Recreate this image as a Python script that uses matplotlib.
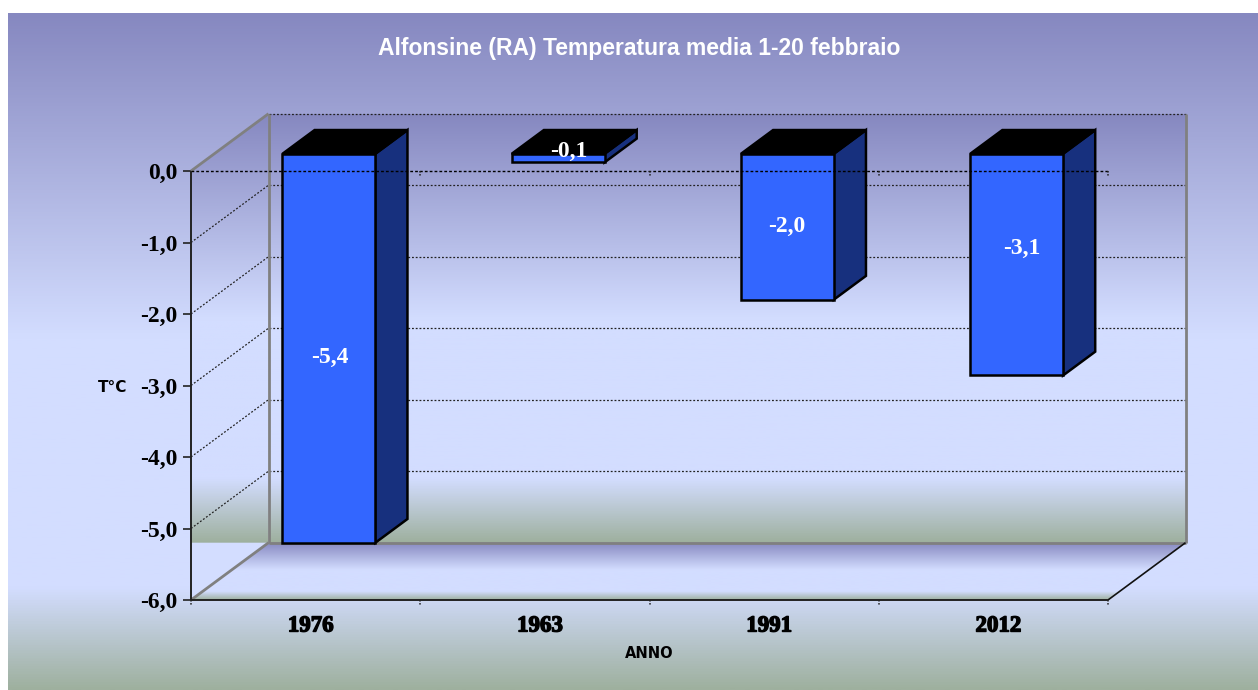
import numpy as np
import matplotlib
matplotlib.use("Agg")
import matplotlib.pyplot as plt
from matplotlib.colors import LinearSegmentedColormap
from matplotlib.patches import Polygon
import matplotlib.patheffects as pe

# ---- data ----
years = ["1976", "1963", "1991", "2012"]
values = [-5.44, -0.12, -2.04, -3.10]
y_ticks = [0, -1, -2, -3, -4, -5, -6]
title = "Alfonsine (RA) Temperatura media 1-20 febbraio"
y_title = "T°C"
x_title = "ANNO"

# ---- style ----
W, H = 1258, 690
L, R, T, B = 191.0, 1108.0, 171.0, 600.0     # front plane, pixels
DX_PX, DY_PX = 77.5, 57.3                    # full chart depth, pixels
BAR_W = 0.405
BAR_D0, BAR_D1 = 0.30, 0.715                 # bar depth span (fraction of chart depth)
FACE, SIDE, TOP = "#3366FF", "#17307E", "#000000"
SERIF = "Liberation Serif"
SANS = "Liberation Sans"
LABEL_SHIFT_PX = [(1, -9.5), (11, 6.5), (-1, 0), (5, 16.5)]

grad = LinearSegmentedColormap.from_list("bg", [
    (0.00, "#8688C0"), (0.48, "#D3DDFF"), (0.85, "#D3DDFF"), (1.00, "#9EB09E")])
g = np.linspace(0, 1, 512).reshape(-1, 1)

fig = plt.figure(figsize=(W / 100, H / 100), dpi=100, facecolor="white")

# page background
bg = fig.add_axes([8 / W, 0, 1 - 8 / W, 1 - 13 / H])
bg.imshow(g, cmap=grad, aspect="auto", extent=(0, 1, 0, 1), vmin=0, vmax=1)
bg.axis("off")

ax = fig.add_axes([L / W, 1 - B / H, (R - L) / W, (B - T) / H])
ax.set_xlim(0, len(years))
ax.set_ylim(min(y_ticks), max(y_ticks))
ax.patch.set_alpha(0)
for s in ax.spines.values():
    s.set_visible(False)

ux = (R - L) / len(years)
uy = (B - T) / (max(y_ticks) - min(y_ticks))
DX, DY = DX_PX / ux, DY_PX / uy


def pt(x, y, d=0.0):
    return (x + d * DX, y + d * DY)


ymin, ymax = min(y_ticks), max(y_ticks)
xn = len(years)
floor_y = ymin + DY
top_back = ymax + DY


def grad_poly(pts, y0, y1, x0, x1, z):
    im = ax.imshow(g, cmap=grad, aspect="auto", extent=(x0, x1, y0, y1),
                   vmin=0, vmax=1, zorder=z)
    poly = Polygon(pts, closed=True, transform=ax.transData, fc="none", ec="none",
                   clip_on=False)
    ax.add_patch(poly)
    im.set_clip_box(fig.bbox)
    im.set_clip_path(poly)
    return im


# flat corner under the left wall
ax.add_patch(Polygon([pt(0, ymin), pt(0, ymin, 1), (0, floor_y)], closed=True,
                     fc="#D3DDFF", ec="none", clip_on=False, zorder=1))
# back wall
grad_poly([pt(0, ymax, 1), pt(xn, ymax, 1), pt(xn, ymin, 1), pt(0, ymin, 1)],
          floor_y, top_back, DX, xn + DX, 1)
# left wall (ends where the floor starts)
grad_poly([pt(0, ymax), pt(0, ymax, 1), pt(0, ymin, 1), (0, floor_y)],
          floor_y, top_back, 0, DX, 1)
# floor
grad_poly([pt(0, ymin), pt(0, ymin, 1), pt(xn, ymin, 1), pt(xn, ymin)],
          ymin, floor_y, 0, xn + DX, 1)

ax.set_xlim(0, xn)
ax.set_ylim(ymin, ymax)

line_kw = dict(clip_on=False, solid_capstyle="butt")
grid_kw = dict(color="#222222", lw=0.9, dashes=(1.5, 1.5), clip_on=False, zorder=2)

# gridlines: left wall diagonals and back wall horizontals
for v in y_ticks[1:-1]:
    ax.plot(*zip(pt(0, v), pt(0, v, 1)), **grid_kw)
    ax.plot(*zip(pt(0, v, 1), pt(xn, v, 1)), **grid_kw)
ax.plot(*zip(pt(0, ymax, 1), pt(xn, ymax, 1)), **grid_kw)

# grey frame of the walls
grey = dict(color="#808080", lw=2.0, zorder=3, **line_kw)
ax.plot(*zip(pt(0, ymax, 1), pt(0, ymin, 1)), **grey)
ax.plot(*zip(pt(xn, ymax, 1), pt(xn, ymin, 1)), **grey)
ax.plot(*zip(pt(0, ymin, 1), pt(xn, ymin, 1)), **grey)
ax.plot(*zip(pt(0, ymax), pt(0, ymax, 1)), **grey)
ax.plot(*zip(pt(0, ymin), pt(0, ymin, 1)), **grey)
ax.plot(*zip(pt(xn, ymin), pt(xn, ymin, 1)), color="#111111", lw=1.2, zorder=3, **line_kw)

# zero line runs in front of the bars
ax.plot([0, xn], [0, 0], color="#000000", lw=1.0, dashes=(2, 1.5), zorder=8, clip_on=False)

# front axes
ax.plot([0, 0], [ymin, ymax], color="#222222", lw=1.4, zorder=9, **line_kw)
ax.plot([0, xn], [ymin, ymin], color="#222222", lw=1.4, zorder=9, **line_kw)

# bars
for i, v in enumerate(values):
    x0 = i + 0.5 - BAR_W / 2
    x1 = i + 0.5 + BAR_W / 2
    f = [pt(x0, 0, BAR_D0), pt(x1, 0, BAR_D0), pt(x1, v, BAR_D0), pt(x0, v, BAR_D0)]
    s = [pt(x1, 0, BAR_D0), pt(x1, 0, BAR_D1), pt(x1, v, BAR_D1), pt(x1, v, BAR_D0)]
    t = [pt(x0, 0, BAR_D0), pt(x0, 0, BAR_D1), pt(x1, 0, BAR_D1), pt(x1, 0, BAR_D0)]
    kw = dict(closed=True, ec="#000000", lw=1.8, joinstyle="miter", clip_on=False, zorder=5)
    ax.add_patch(Polygon(s, fc=SIDE, **kw))
    ax.add_patch(Polygon(f, fc=FACE, **kw))
    ax.add_patch(Polygon(t, fc=TOP, **kw))
    ax.annotate(f"{v:.1f}".replace(".", ","), xy=pt(i + 0.5, v / 2, BAR_D0),
                xytext=LABEL_SHIFT_PX[i], textcoords="offset pixels",
                color="white", family=SERIF, weight="bold", fontsize=17,
                ha="center", va="center", zorder=10, annotation_clip=False)

# ticks
ax.set_yticks(y_ticks)
ax.set_yticklabels([f"{v:.1f}".replace(".", ",") for v in y_ticks],
                   family=SERIF, weight="bold", fontsize=17, color="black")
ax.tick_params(axis="y", length=6, width=1.2, pad=4, color="#222222")
ax.set_xticks(np.arange(1, xn + 1))
ax.set_xticklabels([])
ax.tick_params(axis="x", length=0)
for k in range(0, xn + 1):
    for base in (ymin, ymax):
        if base == ymax and k == 0:
            continue
        ax.plot([k, k], [base, base - 0.08], color="#222222", lw=1.1,
                dashes=(1, 1), zorder=9, clip_on=False)

stroke = [pe.withStroke(linewidth=1.0, foreground="black")]
for i, lab in enumerate(years):
    ax.annotate(lab, xy=(i + 0.5, ymin), xytext=(5, -26), textcoords="offset pixels",
                family=SERIF, weight="bold", fontsize=16.5, ha="center", va="center",
                annotation_clip=False, color="black", path_effects=stroke)

fig.text(639 / W, 1 - 48 / H, title, color="white", family=SANS, weight="bold",
         fontsize=16.5, ha="center", va="center")
fig.text(113 / W, 1 - 388 / H, y_title, color="black", family="DejaVu Sans", weight="bold",
         fontsize=11, ha="center", va="center")
fig.text(649 / W, 1 - 654 / H, x_title, color="black", family="DejaVu Sans", weight="bold",
         fontsize=10.5, ha="center", va="center")

fig.savefig("out.png", dpi=100, facecolor="white")
